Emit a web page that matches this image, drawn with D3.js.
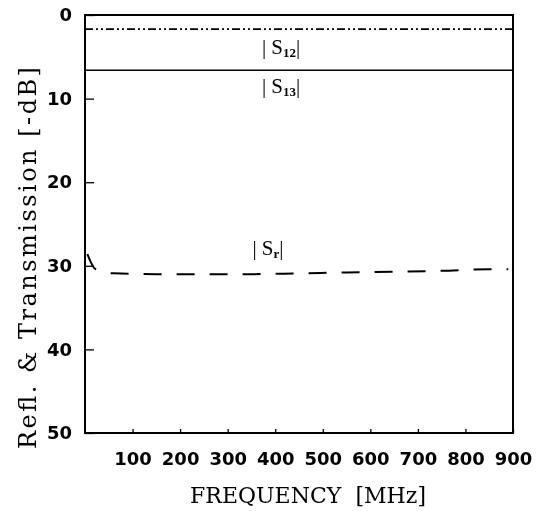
<!DOCTYPE html>
<html>
<head>
<meta charset="utf-8">
<script src="https://cdn.jsdelivr.net/npm/d3@7"></script>
<style>
  body { margin: 0; background: #fff; }
  svg { display: block; filter: grayscale(1); }
</style>
</head>
<body>
<div id="chart"></div>
<script>
// frequency axis and dB axis ticks
const xTicks = [100, 200, 300, 400, 500, 600, 700, 800, 900];
const yTicks = [0, 10, 20, 30, 40, 50];

// |S12| and |S13| are flat across the band
const freqFlat = [0, 900];
const s12 = [1.7, 1.7];
const s13 = [6.6, 6.6];

// |Sr| reflection curve
const freqSr = [5, 22, 60, 150, 250, 350, 450, 550, 650, 750, 850, 890];
const sr = [28.6, 30.4, 30.9, 31.0, 31.0, 31.0, 30.9, 30.8, 30.7, 30.6, 30.4, 30.4];

// curve labels
const labelNames = ['12', '13', 'r'];
const labelFreq = [372, 372, 352];
const labelDb = [4.7, 9.3, 28.7];

const W = 537, H = 511;
const margin = { top: 15, right: 24, bottom: 78, left: 85 };
const width = W - margin.left - margin.right;
const height = H - margin.top - margin.bottom;

const svg = d3.select('#chart')
    .append('svg')
    .attr('width', W)
    .attr('height', H);

const g = svg.append('g')
    .attr('transform', `translate(${margin.left},${margin.top})`);

const x = d3.scaleLinear().domain([0, 900]).range([0, width]);
const y = d3.scaleLinear().domain([0, 50]).range([0, height]);

// axes (ticks point inward)
const xAxis = g.append('g')
    .attr('transform', `translate(0,${height})`)
    .call(d3.axisBottom(x).tickValues(xTicks).tickSize(-4).tickPadding(19).tickFormat(d3.format('d')));

const yAxis = g.append('g')
    .call(d3.axisLeft(y).tickValues(yTicks).tickSize(-9).tickPadding(13).tickFormat(d3.format('d')));

[xAxis, yAxis].forEach(a => {
    a.select('.domain').remove();
    a.selectAll('line').attr('stroke', '#000').attr('stroke-width', 1.3);
    a.selectAll('text')
        .attr('fill', '#000')
        .style('font-family', '"DejaVu Sans", sans-serif')
        .style('font-weight', 'bold')
        .style('font-size', '18px');
});

// frame
g.append('rect')
    .attr('x', 0)
    .attr('y', 0)
    .attr('width', width)
    .attr('height', height)
    .attr('fill', 'none')
    .attr('stroke', '#000')
    .attr('stroke-width', 2);

const line = d3.line()
    .x(d => x(d[0]))
    .y(d => y(d[1]));

g.append('path')
    .datum(d3.zip(freqFlat, s12))
    .attr('d', line)
    .attr('fill', 'none')
    .attr('stroke', '#000')
    .attr('stroke-width', 1.8)
    .attr('stroke-dasharray', '8,3,2,3,2,3');

g.append('path')
    .datum(d3.zip(freqFlat, s13))
    .attr('d', line)
    .attr('fill', 'none')
    .attr('stroke', '#000')
    .attr('stroke-width', 1.6);

g.append('path')
    .datum(d3.zip(freqSr, sr))
    .attr('d', line.curve(d3.curveMonotoneX))
    .attr('fill', 'none')
    .attr('stroke', '#000')
    .attr('stroke-width', 2)
    .attr('stroke-dasharray', '18,15');

// curve labels |S..|
labelNames.forEach((name, i) => {
    const t = g.append('text')
        .attr('x', x(labelFreq[i]))
        .attr('y', y(labelDb[i]))
        .style('font-family', '"Liberation Serif", serif')
        .style('font-size', '21px')
        .attr('fill', '#000');
    t.append('tspan').text('| S');
    t.append('tspan')
        .attr('dy', 3)
        .style('font-size', '13px')
        .style('font-weight', 'bold')
        .text(name);
    t.append('tspan')
        .attr('dy', -3)
        .text('|');
});

// axis titles
svg.append('text')
    .attr('transform', 'translate(36,258) rotate(-90)')
    .attr('text-anchor', 'middle')
    .attr('textLength', 382)
    .attr('lengthAdjust', 'spacing')
    .style('font-family', '"DejaVu Serif", serif')
    .style('font-size', '24px')
    .attr('fill', '#000')
    .text('Refl. & Transmission [-dB]');

svg.append('text')
    .attr('x', 308)
    .attr('y', 503)
    .attr('text-anchor', 'middle')
    .attr('textLength', 236)
    .attr('lengthAdjust', 'spacing')
    .attr('xml:space', 'preserve')
    .style('font-family', '"DejaVu Serif", serif')
    .style('font-size', '22px')
    .attr('fill', '#000')
    .text('FREQUENCY  [MHz]');
</script>
</body>
</html>
